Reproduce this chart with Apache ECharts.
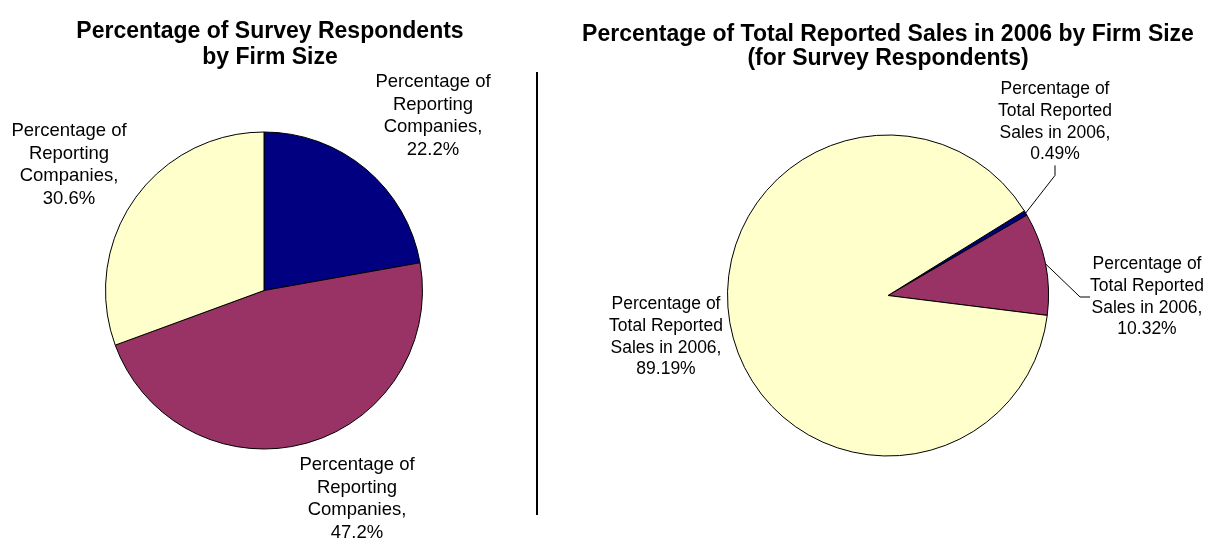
<!DOCTYPE html>
<html>
<head>
<meta charset="utf-8">
<script src="https://cdn.jsdelivr.net/npm/echarts@6/dist/echarts.min.js"></script>
<style>
html,body{margin:0;padding:0;background:#fff;}
#c{width:1217px;height:540px;}
</style>
</head>
<body>
<div id="c"></div>
<script>
// ---- data ----
const sliceNames = ['Group 1', 'Group 2', 'Group 3'];
const leftSeriesName = 'Percentage of Reporting Companies';
const leftValues = [22.2, 47.2, 30.6];
const rightSeriesName = 'Percentage of Total Reported Sales in 2006';
const rightValues = [0.49, 10.32, 89.19];
const leftTitle = 'Percentage of Survey Respondents\nby Firm Size';
const rightTitle = 'Percentage of Total Reported Sales in 2006 by Firm Size\n(for Survey Respondents)';

// ---- styles ----
const sliceColors = ['#000080', '#993366', '#FFFFCC'];
const leftLabelPos = [[433, 116], [357, 499], [69, 165]];
const rightLabelPos = [[1055, 122], [1147, 297], [666, 337]];
const rightShowLine = [true, true, false];

const chart = echarts.init(document.getElementById('c'), null, {renderer: 'canvas'});

function makeData(values, showLine) {
  return values.map((v, i) => ({
    name: sliceNames[i],
    value: v,
    itemStyle: {color: sliceColors[i]},
    labelLine: {show: showLine ? showLine[i] : false}
  }));
}

const FONT = 'Liberation Sans, Arial, sans-serif';

chart.setOption({
  animation: false,
  backgroundColor: '#fff',
  title: [
    {
      text: leftTitle, left: 265, top: 14, textAlign: 'center',
      textStyle: {fontFamily: FONT, fontWeight: 'bold', fontSize: 23, lineHeight: 25.5, color: '#000'}
    },
    {
      text: rightTitle, left: 883, top: 17, textAlign: 'center',
      textStyle: {fontFamily: FONT, fontWeight: 'bold', fontSize: 23, lineHeight: 24.5, color: '#000'}
    }
  ],
  graphic: [{
    type: 'line',
    shape: {x1: 537, y1: 72, x2: 537, y2: 515},
    style: {stroke: '#000', lineWidth: 2}
  }],
  series: [
    {
      type: 'pie',
      name: leftSeriesName,
      center: [264, 290.5],
      radius: [0, 158.5],
      startAngle: 90,
      clockwise: true,
      avoidLabelOverlap: false,
      itemStyle: {borderColor: '#000', borderWidth: 1},
      label: {
        show: true,
        fontFamily: FONT,
        fontSize: 18.5,
        color: '#000',
        lineHeight: 22.5,
        align: 'center',
        formatter: p => 'Percentage of\nReporting\nCompanies,\n' + p.value.toFixed(1) + '%'
      },
      labelLine: {show: false},
      labelLayout: p => ({
        x: leftLabelPos[p.dataIndex][0],
        y: leftLabelPos[p.dataIndex][1],
        align: 'center',
        verticalAlign: 'middle'
      }),
      emphasis: {disabled: true},
      data: makeData(leftValues, null)
    },
    {
      type: 'pie',
      name: rightSeriesName,
      center: [888, 295.5],
      radius: [0, 160.5],
      startAngle: 31.8,
      clockwise: true,
      avoidLabelOverlap: false,
      itemStyle: {borderColor: '#000', borderWidth: 1},
      label: {
        show: true,
        fontFamily: FONT,
        fontSize: 17.5,
        color: '#000',
        lineHeight: 21.7,
        align: 'center',
        formatter: p => 'Percentage of\nTotal Reported\nSales in 2006,\n' + p.value.toFixed(2) + '%'
      },
      labelLine: {show: true, lineStyle: {color: '#000', width: 1}, length: 10, length2: 10},
      labelLayout: p => ({
        x: rightLabelPos[p.dataIndex][0],
        y: rightLabelPos[p.dataIndex][1],
        align: 'center',
        verticalAlign: 'middle'
      }),
      emphasis: {disabled: true},
      data: makeData(rightValues, rightShowLine)
    }
  ]
});
</script>
</body>
</html>
